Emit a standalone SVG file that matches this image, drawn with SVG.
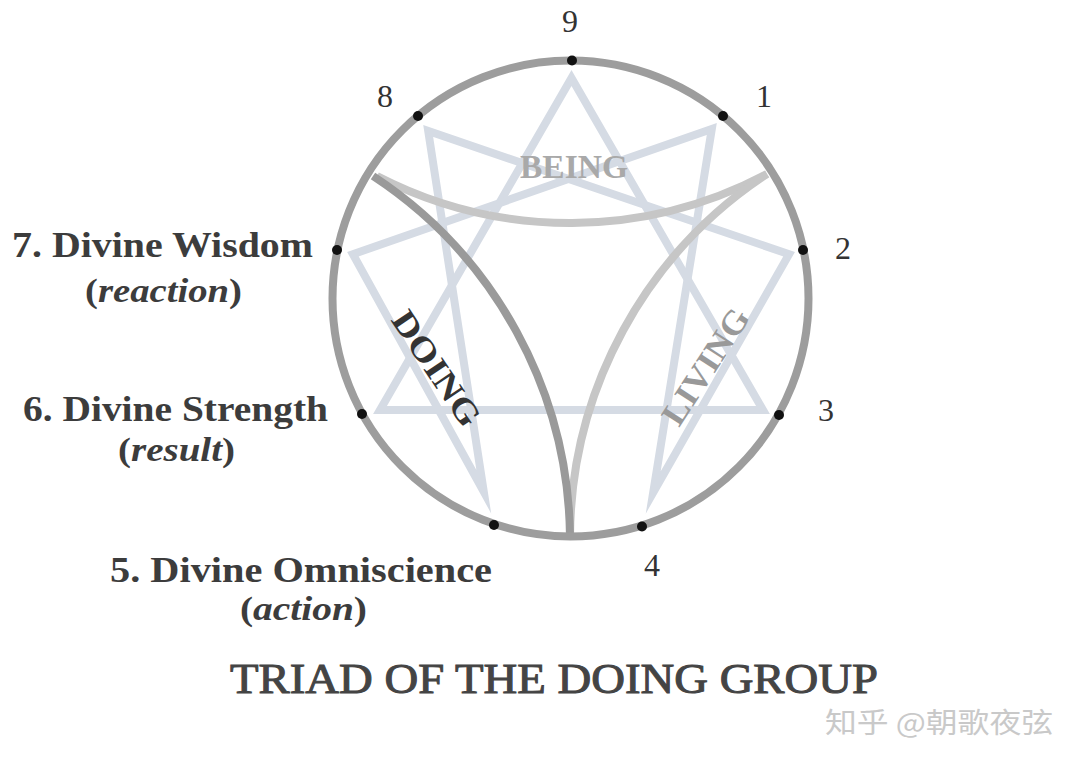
<svg xmlns="http://www.w3.org/2000/svg" width="1082" height="770" viewBox="0 0 1082 770">
<style>
.ring{fill:none;stroke:#9d9d9d;stroke-width:8}
.star{fill:none;stroke:#d5dbe4;stroke-width:8;stroke-linejoin:miter;stroke-miterlimit:10}
.arcd{fill:none;stroke:#9a9a9a;stroke-width:8}
.arcl{fill:none;stroke:#c6c6c6;stroke-width:8}
.dot{fill:#111}
.num{font-family:"Liberation Serif",serif;font-size:32px;fill:#333;text-anchor:middle}
.lbl{font-family:"Liberation Serif",serif;font-size:36px;font-weight:bold;fill:#3c3c3c}
.sub{font-family:"Liberation Serif",serif;font-size:33px;font-weight:bold;fill:#3c3c3c}
.it{font-style:italic}
.tri{font-family:"Liberation Serif",serif;font-size:34px;font-weight:bold;text-anchor:middle}
.title{font-family:"Liberation Serif",serif;font-size:42px;fill:#444;stroke:#444;stroke-width:1}
.wm{font-family:"Noto Sans CJK SC",sans-serif;font-size:28px;fill:#c9c9c9}
</style>
<rect width="1082" height="770" fill="#fff"/>
<g id="connectors">
<polygon class="star" points="571.5,78 763,410 380,410"/>
<polygon class="star" points="711.8,129 653.2,492.5 789.1,254.2 428.2,131 483.8,491.8 352.9,254.2"/>
<path class="arcl" d="M377 176 A420 420 0 0 0 767 174"/>
<path class="arcl" d="M767 174 A437 437 0 0 0 570 537"/>
<path class="arcd" d="M373 176 A437 437 0 0 1 570 537"/>
<circle class="ring" cx="570.5" cy="298.5" r="238"/>
</g>
<g id="triads">
<text class="tri" x="574" y="178" fill="#a9a9a9" textLength="108" lengthAdjust="spacingAndGlyphs">BEING</text>
<text class="tri" transform="translate(437,368) rotate(56)" x="0" y="12" fill="#333" textLength="132" lengthAdjust="spacingAndGlyphs">DOING</text>
<text class="tri" transform="translate(705,366) rotate(-57)" x="0" y="12" fill="#999" textLength="132" lengthAdjust="spacingAndGlyphs">LIVING</text>
</g>
<g id="node-9"><circle class="dot" cx="572" cy="60.5" r="5"/><text class="num" x="570" y="32">9</text></g>
<g id="node-1"><circle class="dot" cx="723" cy="116" r="5"/><text class="num" x="764" y="107">1</text></g>
<g id="node-2"><circle class="dot" cx="803" cy="250" r="5"/><text class="num" x="843" y="259">2</text></g>
<g id="node-3"><circle class="dot" cx="779" cy="415" r="5"/><text class="num" x="826" y="421">3</text></g>
<g id="node-4"><circle class="dot" cx="642" cy="526.5" r="5"/><text class="num" x="652" y="576">4</text></g>
<g id="node-5"><circle class="dot" cx="494" cy="525" r="5"/>
<text class="lbl" x="110" y="582" textLength="382" lengthAdjust="spacingAndGlyphs">5. Divine Omniscience</text>
<text class="sub" x="240" y="620" textLength="127" lengthAdjust="spacingAndGlyphs">(<tspan class="it">action</tspan>)</text></g>
<g id="node-6"><circle class="dot" cx="362" cy="414" r="5"/>
<text class="lbl" x="23" y="421" textLength="305" lengthAdjust="spacingAndGlyphs">6. Divine Strength</text>
<text class="sub" x="118" y="461" textLength="117" lengthAdjust="spacingAndGlyphs">(<tspan class="it">result</tspan>)</text></g>
<g id="node-7"><circle class="dot" cx="337" cy="250" r="5"/>
<text class="lbl" x="12" y="257" textLength="301" lengthAdjust="spacingAndGlyphs">7. Divine Wisdom</text>
<text class="sub" x="85" y="302" textLength="157" lengthAdjust="spacingAndGlyphs">(<tspan class="it">reaction</tspan>)</text></g>
<g id="node-8"><circle class="dot" cx="418" cy="116" r="5"/><text class="num" x="385" y="107">8</text></g>
<g id="caption">
<text class="title" x="230" y="693" textLength="648" lengthAdjust="spacingAndGlyphs">TRIAD OF THE DOING GROUP</text>
<text class="wm" x="825" y="733" textLength="228" lengthAdjust="spacingAndGlyphs">知乎 @朝歌夜弦</text>
</g>
</svg>
